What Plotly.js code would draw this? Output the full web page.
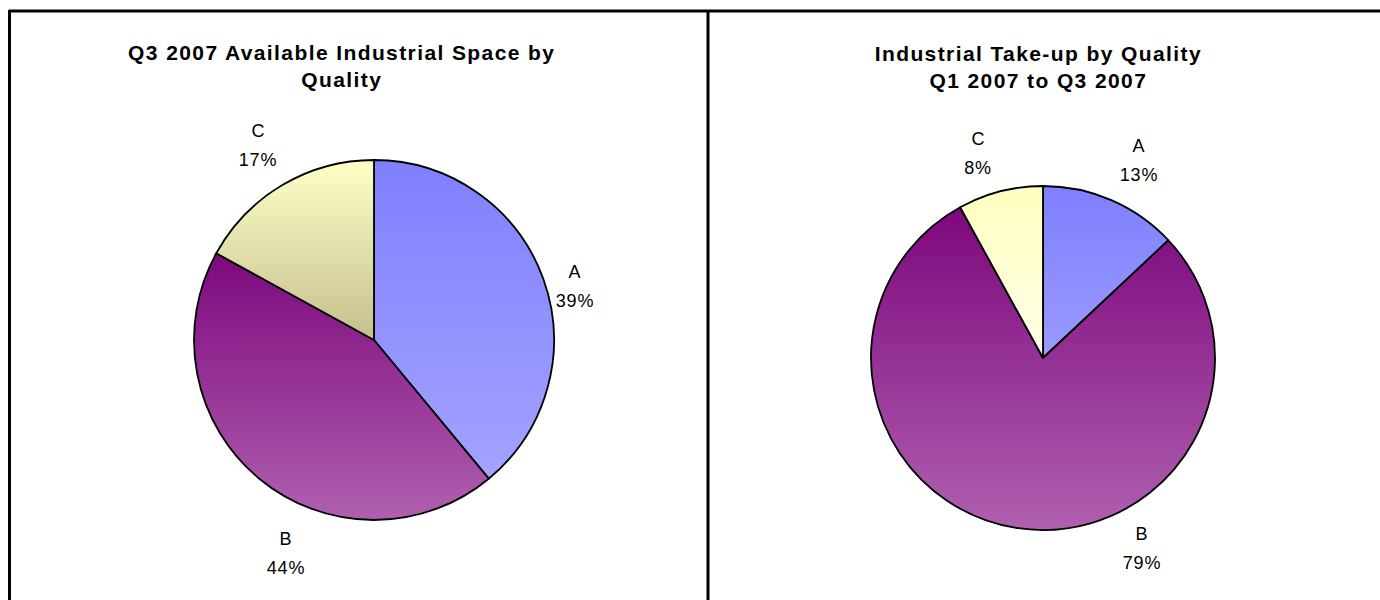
<!DOCTYPE html>
<html>
<head>
<meta charset="utf-8">
<script src="https://cdn.plot.ly/plotly-3.0.1.min.js"></script>
<style>
  html, body { margin: 0; padding: 0; background: #ffffff; }
  #chart { width: 1380px; height: 600px; }
</style>
</head>
<body>
<div id="chart"></div>
<script>
// ---- data ----
const categories = ['A', 'B', 'C'];
const availableSpace = [39, 44, 17];      // Q3 2007 available industrial space, %
const takeUp = [13, 79, 8];               // Q1-Q3 2007 industrial take-up, %
const titleLeft = 'Q3 2007 Available Industrial Space by<br>Quality';
const titleRight = 'Industrial Take-up by Quality<br>Q1 2007 to Q3 2007';

// ---- layout helpers (pixel -> paper) ----
const W = 1380, H = 600;
const px = v => v / W;
const py = v => 1 - v / H;

const FONT = 'Liberation Sans, Arial, sans-serif';

function pieTrace(values, cx, cy, r) {
  return {
    type: 'pie',
    labels: categories,
    values: values,
    sort: false,
    direction: 'clockwise',
    rotation: 0,
    textinfo: 'none',
    hoverinfo: 'none',
    showlegend: false,
    marker: { colors: ['#8f8fff', '#993399', '#ffffcc'], line: { color: '#000000', width: 1.8 } },
    domain: { x: [px(cx - r), px(cx + r)], y: [py(cy + r), py(cy - r)] }
  };
}

const traces = [
  pieTrace(availableSpace, 374, 340, 180),
  pieTrace(takeUp, 1043, 358, 172)
];

// label positions (pixel) for each category, per chart
const labelPos = [
  { A: [575, 272], B: [286, 539], C: [258, 131] },
  { A: [1139, 146], B: [1142, 534], C: [978, 139] }
];
const LINE_GAP = 29;

const annotations = [];
[availableSpace, takeUp].forEach((vals, k) => {
  const total = vals.reduce((a, b) => a + b, 0);
  categories.forEach((c, i) => {
    const [x, y] = labelPos[k][c];
    annotations.push({ xref: 'paper', yref: 'paper', x: px(x), y: py(y), text: c,
      showarrow: false, xanchor: 'center', yanchor: 'middle',
      font: { family: FONT, size: 18, color: '#000' } });
    annotations.push({ xref: 'paper', yref: 'paper', x: px(x), y: py(y + LINE_GAP),
      text: Math.round(vals[i] / total * 100) + '%',
      showarrow: false, xanchor: 'center', yanchor: 'middle',
      font: { family: FONT, size: 18, color: '#000' } });
  });
});
annotations.push({ xref: 'paper', yref: 'paper', x: px(342), y: py(66), text: '<b>' + titleLeft + '</b>',
  showarrow: false, xanchor: 'center', yanchor: 'middle', font: { family: FONT, size: 21, color: '#000' } });
annotations.push({ xref: 'paper', yref: 'paper', x: px(1038), y: py(67), text: '<b>' + titleRight + '</b>',
  showarrow: false, xanchor: 'center', yanchor: 'middle', font: { family: FONT, size: 21, color: '#000' } });

const border = { color: '#000000', width: 3 };
const shapes = [
  { type: 'line', xref: 'paper', yref: 'paper', x0: px(9), x1: px(1400), y0: py(11), y1: py(11), line: border },
  { type: 'line', xref: 'paper', yref: 'paper', x0: px(9.5), x1: px(9.5), y0: py(10), y1: py(620), line: border },
  { type: 'line', xref: 'paper', yref: 'paper', x0: px(708), x1: px(708), y0: py(10), y1: py(620), line: border }
];

const layout = {
  width: W, height: H,
  margin: { l: 0, r: 0, t: 0, b: 0 },
  paper_bgcolor: '#ffffff',
  plot_bgcolor: '#ffffff',
  annotations: annotations,
  shapes: shapes
};

const gradients = [
  [['#7f7fff', '#a3a3ff'], ['#7d087d', '#b060b0'], ['#ffffc6', '#c4c08e']],
  [['#7f7fff', '#9a9aff'], ['#7d087d', '#b060b0'], ['#ffffc0', '#ffffe8']]
];

const gd = document.getElementById('chart');
Plotly.newPlot(gd, traces, layout, { staticPlot: true, displayModeBar: false }).then(() => {
  const NS = 'http://www.w3.org/2000/svg';
  const svg = gd.querySelector('svg.main-svg');
  const defs = document.createElementNS(NS, 'defs');
  svg.insertBefore(defs, svg.firstChild);
  const pies = gd.querySelectorAll('.pielayer .trace');
  pies.forEach((tr, t) => {
    tr.querySelectorAll('path.surface').forEach((p, i) => {
      const id = 'grad_' + t + '_' + i;
      const lg = document.createElementNS(NS, 'linearGradient');
      lg.setAttribute('id', id);
      lg.setAttribute('x1', '0'); lg.setAttribute('y1', '0');
      lg.setAttribute('x2', '0'); lg.setAttribute('y2', '1');
      const [c1, c2] = gradients[t][i];
      [[0, c1], [1, c2]].forEach(([o, c]) => {
        const s = document.createElementNS(NS, 'stop');
        s.setAttribute('offset', o);
        s.setAttribute('stop-color', c);
        lg.appendChild(s);
      });
      defs.appendChild(lg);
      p.style.fill = 'url(#' + id + ')';
    });
  });
  // wider character spacing, as in the original rendering
  gd.querySelectorAll('.annotation-text').forEach(el => {
    const isTitle = el.textContent.length > 12;
    el.style.letterSpacing = isTitle ? '1.4px' : '0.8px';
  });
});
</script>
</body>
</html>
